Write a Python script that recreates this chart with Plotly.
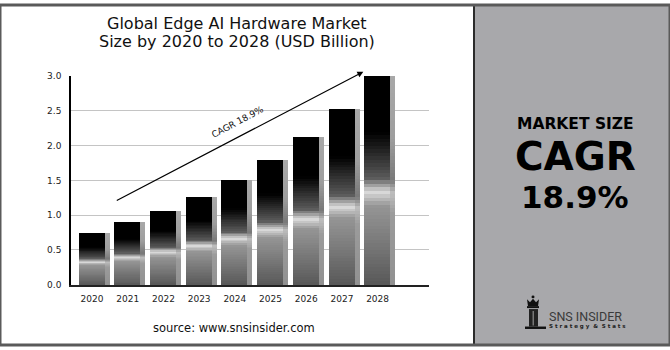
import plotly.graph_objects as go

# ---- data ----
years = ["2020", "2021", "2022", "2023", "2024", "2025", "2026", "2027", "2028"]
market_size = [0.74, 0.90, 1.06, 1.26, 1.50, 1.79, 2.13, 2.53, 3.00]
labeled_years = ["2021", "2028"]
y_tick_values = [0.0, 0.5, 1.0, 1.5, 2.0, 2.5, 3.0]
cagr_label = "CAGR 18.9%"
cagr_start = (0.65, 1.20)   # arrow tail (category index, USD bn)
cagr_end = (7.60, 3.06)     # arrow head
title_lines = ["Global Edge AI Hardware Market", "Size by 2020 to 2028 (USD Billion)"]
source_text = "source: www.snsinsider.com"
panel_lines = ["MARKET SIZE", "CAGR", "18.9%"]
panel_sizes = [15.5, 39, 31]

W, H = 670, 350
FONT = "DejaVu Sans"


def px(x):
    return x / W


def py(y):
    return 1 - y / H


# vertical metallic shading: (fraction from top, grey level)
BAR_STOPS = [(0.0, 0), (0.27, 0), (0.49, 90), (0.555, 220), (0.62, 150), (1.0, 88)]
SHADOW_STOPS = [(0.0, 168), (0.3, 158), (0.5, 120), (0.56, 190), (0.66, 155), (1.0, 145)]


def grey(stops, t):
    for (t0, g0), (t1, g1) in zip(stops, stops[1:]):
        if t0 <= t <= t1:
            g = g0 + (g1 - g0) * (t - t0) / (t1 - t0) if t1 > t0 else g1
            g = int(round(g))
            return f"rgb({g},{g},{g})"
    g = stops[-1][1]
    return f"rgb({g},{g},{g})"


N = 60
fig = go.Figure()


def add_shaded(stops, width, offset):
    # stacked from tallest to shortest so each slice shows its own tone
    for k in range(N):
        frac = (N - k) / N
        t = 1 - (frac - 0.5 / N)
        fig.add_bar(
            x=years,
            y=[v * frac for v in market_size],
            width=width,
            offset=offset,
            marker=dict(color=grey(stops, t), line=dict(width=0)),
            hoverinfo="skip",
            showlegend=False,
        )


add_shaded(SHADOW_STOPS, 0.14, 0.353)
add_shaded(BAR_STOPS, 0.728, -0.375)

annotations = []
for yr in labeled_years:
    v = market_size[years.index(yr)]
    annotations.append(dict(
        x=yr, y=v, xref="x", yref="y", text=f"{v:.1f}", showarrow=False,
        yanchor="bottom", yshift=1, font=dict(family=FONT, size=10, color="#111"),
    ))

# growth arrow with its label
annotations.append(dict(
    x=cagr_end[0], y=cagr_end[1], xref="x", yref="y",
    ax=cagr_start[0], ay=cagr_start[1], axref="x", ayref="y",
    text="", showarrow=True, arrowhead=2, arrowsize=1, arrowwidth=1.2,
    arrowcolor="#000", standoff=0, startstandoff=0,
))
annotations.append(dict(
    x=4.07, y=2.34, xref="x", yref="y", text=cagr_label, showarrow=False,
    textangle=-28, font=dict(family=FONT, size=9, color="#111"),
))

# title and source
for line, yc in zip(title_lines, [19, 38]):
    annotations.append(dict(
        x=px(237), y=py(yc), xref="paper", yref="paper", text=line,
        showarrow=False, xanchor="center", yanchor="middle",
        font=dict(family=FONT, size=16, color="#111"),
    ))
annotations.append(dict(
    x=px(234), y=py(333), xref="paper", yref="paper", text=source_text,
    showarrow=False, xanchor="center", yanchor="middle",
    font=dict(family=FONT, size=11.5, color="#111"),
))

# right panel headline, placed by baseline
for line, base, size in zip(panel_lines, [128, 169.5, 208.5], panel_sizes):
    annotations.append(dict(
        x=px(575), y=py(base - 0.346 * size), xref="paper", yref="paper",
        text=f"<b>{line}</b>", showarrow=False, xanchor="center", yanchor="middle",
        font=dict(family=FONT, size=size, color="#000"),
    ))

# logo wordmark
annotations.append(dict(
    x=px(547), y=py(320.5), xref="paper", yref="paper", text="SNS INSIDER",
    showarrow=False, xanchor="left", yanchor="middle",
    font=dict(family="Roboto", size=12.5, color="#3a3a3a"),
))
annotations.append(dict(
    x=px(547), y=py(331), xref="paper", yref="paper",
    text="<b>S t r a t e g y  &  S t a t s</b>",
    showarrow=False, xanchor="left", yanchor="middle",
    font=dict(family=FONT, size=5.5, color="#222"),
))

shapes = [
    # right panel
    dict(type="rect", xref="paper", yref="paper", x0=px(474), x1=1, y0=0, y1=1,
         fillcolor="#a8a8ab", line=dict(width=0), layer="below"),
    dict(type="line", xref="paper", yref="paper", x0=px(474), x1=px(474), y0=0, y1=1,
         line=dict(color="#2b2b2b", width=2)),
    # outer frame
    dict(type="rect", xref="paper", yref="paper", x0=0, x1=1, y0=0, y1=1,
         line=dict(color="#5a5a5a", width=3), fillcolor="rgba(0,0,0,0)"),
    # rook emblem
    dict(type="circle", xref="paper", yref="paper", x0=px(531.5), x1=px(534.5),
         y0=py(302), y1=py(299), fillcolor="#111", line=dict(width=0)),
    dict(type="path", xref="paper", yref="paper",
         path=f"M {px(527)} {py(303)} L {px(530)} {py(306)} L {px(533)} {py(302.5)} "
              f"L {px(536)} {py(306)} L {px(539)} {py(303)} L {px(538)} {py(310)} "
              f"L {px(528)} {py(310)} Z",
         fillcolor="#111", line=dict(width=0)),
    dict(type="rect", xref="paper", yref="paper", x0=px(527), x1=px(539),
         y0=py(312), y1=py(310), fillcolor="#111", line=dict(width=0)),
    dict(type="rect", xref="paper", yref="paper", x0=px(529), x1=px(538),
         y0=py(331), y1=py(313), fillcolor="#222", line=dict(width=0)),
    dict(type="rect", xref="paper", yref="paper", x0=px(532.5), x1=px(534),
         y0=py(330), y1=py(315), fillcolor="#777", line=dict(width=0)),
    dict(type="rect", xref="paper", yref="paper", x0=px(525), x1=px(546),
         y0=py(333.5), y1=py(331), fillcolor="#111", line=dict(width=0)),
]

fig.update_layout(
    width=W, height=H,
    margin=dict(l=0, r=0, t=0, b=0),
    paper_bgcolor="white", plot_bgcolor="white",
    barmode="overlay", bargap=0,
    showlegend=False,
    annotations=annotations,
    shapes=shapes,
    xaxis=dict(
        domain=[px(71), px(429)], range=[-0.59, 9.44], type="category",
        showline=True, linecolor="#222", linewidth=1.5,
        showgrid=False, ticks="", ticklabelstandoff=5, fixedrange=True,
        tickfont=dict(family=FONT, size=9, color="#222"),
    ),
    yaxis=dict(
        domain=[py(288), py(73)], range=[0, 3.0],
        tickvals=y_tick_values, tickformat=".1f",
        showline=True, linecolor="#000", linewidth=1.5,
        showgrid=True, gridcolor="#c4c4c4", gridwidth=1, zeroline=False,
        ticks="", ticklabelstandoff=6, fixedrange=True,
        tickfont=dict(family=FONT, size=9, color="#222"),
    ),
)

fig.write_html("out.html")
